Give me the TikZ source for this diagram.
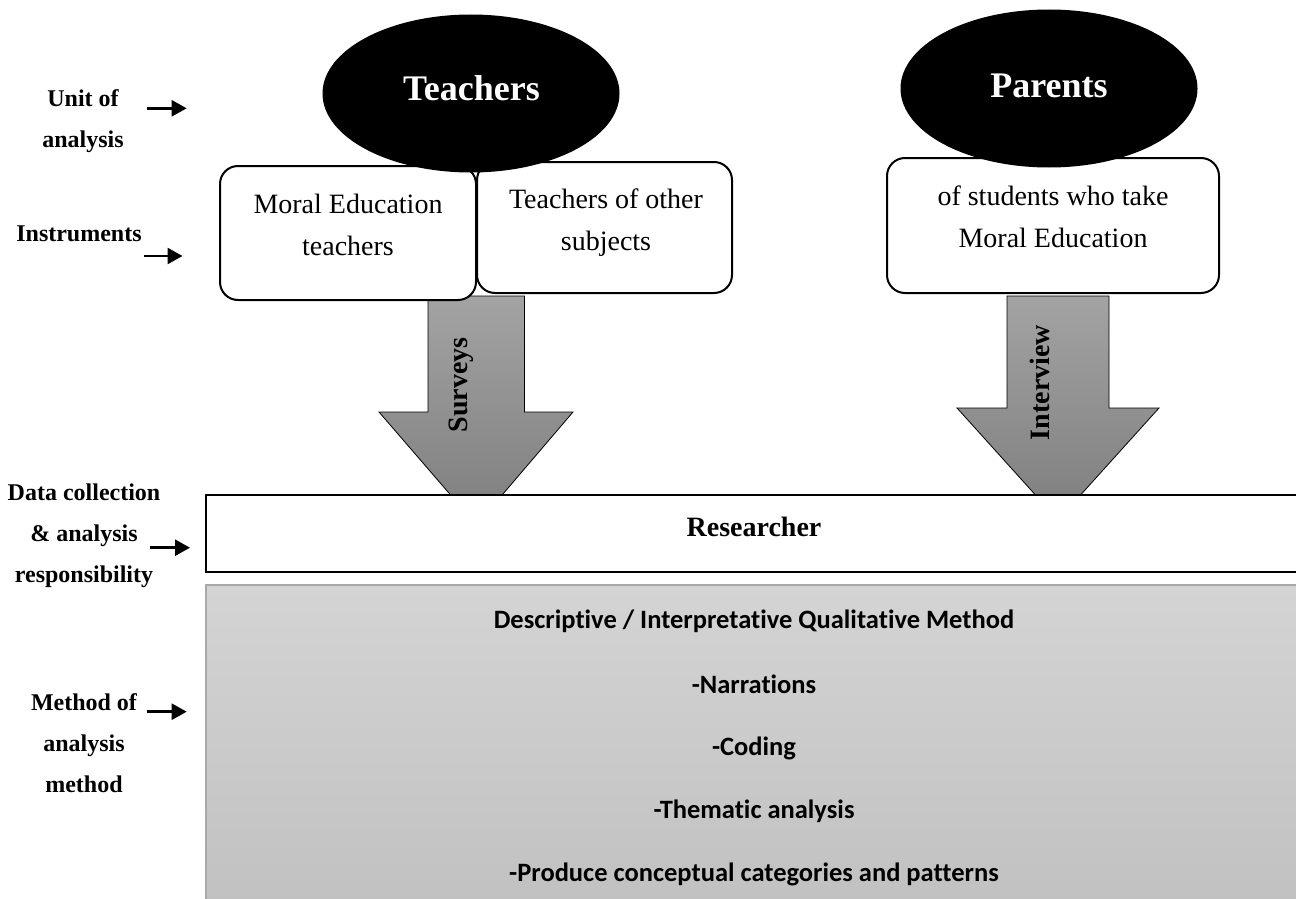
\documentclass[tikz,border=0pt]{standalone}
\usepackage{fontspec}
\setmainfont{Liberation Serif}
\newfontfamily\calibri[Ligatures={NoCommon}]{Carlito}
\usetikzlibrary{arrows.meta,shapes.geometric}

\definecolor{arrtop}{HTML}{A3A3A3}
\definecolor{arrbot}{HTML}{7E7E7E}
\definecolor{paneltop}{HTML}{D4D4D4}
\definecolor{panelbot}{HTML}{C1C1C1}
\definecolor{panelrule}{HTML}{A9A9A9}

\tikzset{
  sidelabel/.style={font=\fontsize{24}{41}\selectfont\bfseries, align=center, inner sep=0pt},
  pointer/.style={line width=2.5pt, -{Triangle[length=15pt,width=16pt]}},
  group/.style={ellipse, fill=black, inner sep=0pt, minimum width=297pt, minimum height=158pt},
  grouptext/.style={font=\fontsize{36}{40}\selectfont\bfseries, text=white, inner sep=0pt, anchor=base},
  infobox/.style={draw, line width=2pt, rounded corners=18pt, fill=white, inner sep=0pt},
  infotext/.style={font=\fontsize{28}{42}\selectfont, align=center, inner sep=0pt},
  blockarrow/.style={top color=arrtop, bottom color=arrbot, draw=black, line width=0.8pt},
  arrowtext/.style={font=\fontsize{28}{30}\selectfont\bfseries, rotate=90, inner sep=0pt},
  methodtext/.style={font=\fontsize{26.5}{30}\selectfont\calibri\bfseries, inner sep=0pt, anchor=base}
}

\begin{document}
\begin{tikzpicture}[x=1pt,y=1pt]
\useasboundingbox (0,0) rectangle (1296,-899);

% block arrows from the participant groups down to the researcher
\path[blockarrow] (428,-296) -- (524.5,-296) -- (524.5,-412) -- (573,-412)
  -- (476.5,-525) -- (379,-412) -- (428,-412) -- cycle;
\path[blockarrow] (1007,-296) -- (1109,-296) -- (1109,-408) -- (1159,-408)
  -- (1058,-520) -- (957,-408) -- (1007,-408) -- cycle;
\node[arrowtext] (surveys) at (461,-385) {Surveys};
\node[arrowtext] (interview) at (1040,-382.5) {Interview};

% researcher band and method panel
\node[draw, line width=2.5pt, fill=white, minimum width=1096pt, minimum height=77pt, inner sep=0pt]
  (researcher) at (754,-533.5) {};
\node[font=\fontsize{28}{30}\selectfont\bfseries, inner sep=0pt, anchor=base] (researchertext)
  at (754,-536.7) {Researcher};
\node[top color=paneltop, bottom color=panelbot, draw=panelrule, line width=1.5pt,
  minimum width=1096pt, minimum height=320pt, inner sep=0pt] (panel) at (754,-745) {};
\node[methodtext] (m1) at (754,-628) {Descriptive / Interpretative Qualitative Method};
\node[methodtext] (m2) at (754,-693) {-Narrations};
\node[methodtext] (m3) at (754,-755) {-Coding};
\node[methodtext] (m4) at (754,-818) {-Thematic analysis};
\node[methodtext] (m5) at (754,-881.7) {-Produce conceptual categories and patterns};

% instrument boxes
\node[infobox, minimum width=255pt, minimum height=131pt] (othersbox) at (604.5,-227.5) {};
\node[infobox, minimum width=256pt, minimum height=134pt] (moralbox) at (348,-233) {};
\node[infobox, minimum width=332pt, minimum height=135pt] (parentsbox) at (1053,-225.5) {};
\node[infotext] (moraltext) at (348,-224.8) {Moral Education\\teachers};
\node[infotext] (otherstext) at (606,-222.8) {Teachers of other\\subjects};
\node[infotext] (parentstext) at (1053,-216.8) {of students who take\\Moral Education};

% units of analysis
\node[group] (teachers) at (471,-93.5) {};
\node[grouptext] (teacherstext) at (471.5,-100) {Teachers};
\node[group] (parents) at (1049,-88.5) {};
\node[grouptext] (parentstext2) at (1049,-98) {Parents};

% row labels with their pointers
\node[sidelabel] (unitlabel) at (83,-121) {Unit of\\analysis};
\node[sidelabel, anchor=base] (instrlabel) at (79,-241) {Instruments};
\node[sidelabel] (datalabel) at (84,-535.3) {Data collection\\\& analysis\\responsibility};
\node[sidelabel] (methodlabel) at (84,-743.3) {Method of\\analysis\\method};

\coordinate (p1a) at (147,-108.3);   \coordinate (p1b) at (186.7,-108.3);
\coordinate (p2a) at (144,-256);     \coordinate (p2b) at (182.5,-256);
\coordinate (p3a) at (150,-547.7);   \coordinate (p3b) at (190,-547.7);
\coordinate (p4a) at (147,-711.7);   \coordinate (p4b) at (186.7,-711.7);
\draw[pointer] (p1a) -- (p1b);
\draw[pointer] (p2a) -- (p2b);
\draw[pointer] (p3a) -- (p3b);
\draw[pointer] (p4a) -- (p4b);
\end{tikzpicture}
\end{document}
